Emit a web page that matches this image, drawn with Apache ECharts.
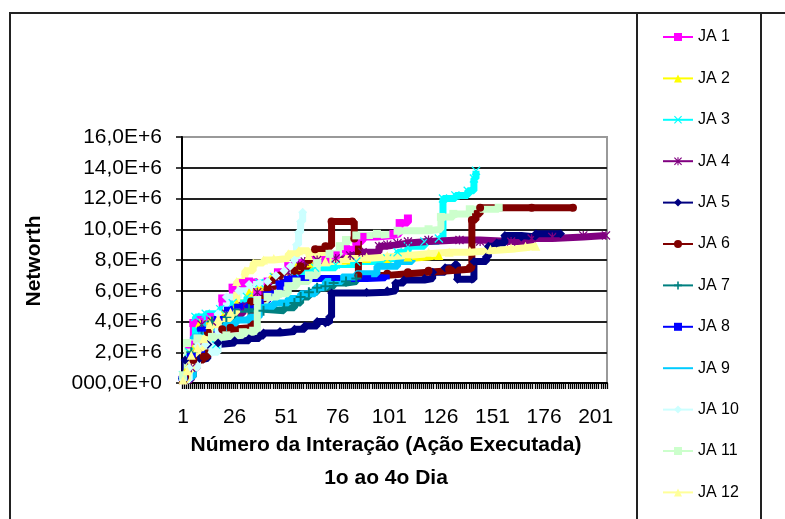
<!DOCTYPE html>
<html>
<head>
<meta charset="utf-8">
<script src="https://cdn.jsdelivr.net/npm/echarts@6/dist/echarts.min.js"></script>
<style>
html,body{margin:0;padding:0;background:#fff;}
#chart{width:785px;height:519px;}
</style>
</head>
<body>
<div id="chart"></div>
<script>
// ---------- data (values in millions) ----------
const xCount = 206;
const categories = [];
for (let i = 1; i <= xCount; i++) categories.push(String(i));

const yTickLabels = ['000,0E+0','2,0E+6','4,0E+6','6,0E+6','8,0E+6','10,0E+6','12,0E+6','14,0E+6','16,0E+6'];
const seriesNames = ['JA 1','JA 2','JA 3','JA 4','JA 5','JA 6','JA 7','JA 8','JA 9','JA 10','JA 11','JA 12'];

const ja1 = [[1,0.3],[4,2.5],[6,3.9],[9,4.1],[14,4.3],[20,5.5],[25,6.2],[30,6.5],[33,6.6],[37,5.8],[42,6.6],[47,7.2],[52,7.6],[58,7.8],[63,8.0],[70,8.0],[75,8.3],[80,8.7],[85,9.2],[88,9.5],[95,9.6],[103,9.7],[106,10.4],[110,10.7]];
const ja2 = [[1,0.3],[3,1.0],[6,2.3],[9,3.9],[14,4.1],[20,4.5],[27,5.2],[33,5.9],[38,6.3],[44,6.9],[50,7.3],[56,7.6],[63,7.8],[70,7.9],[80,8.0],[90,8.1],[100,8.1],[110,8.2],[120,8.3],[125,8.3]];
const ja3 = [[1,0.5],[4,2.0],[7,4.3],[12,4.5],[17,2.5],[19,4.8],[25,5.2],[32,5.6],[38,6.5],[45,6.9],[55,7.2],[65,7.5],[75,7.7],[85,7.9],[100,8.1],[105,8.5],[110,8.9],[118,9.2],[125,9.4],[127,12.0],[133,12.2],[139,12.5],[142,13.3],[143,13.8]];
const ja4 = [[1,0.2],[5,1.0],[8,2.3],[10,3.8],[15,4.0],[22,4.5],[30,5.0],[37,5.9],[43,6.3],[46,6.8],[52,7.2],[57,7.7],[60,7.9],[66,8.0],[75,8.1],[82,8.3],[88,8.5],[96,8.9],[100,9.0],[105,9.1],[110,9.2],[120,9.3],[135,9.3],[145,9.2],[160,9.2],[170,9.4],[180,9.5],[195,9.6],[206,9.6]];
const ja5 = [[1,0.3],[2,1.5],[9,1.6],[13,2.5],[18,2.6],[26,2.75],[33,2.9],[38,3.05],[40,3.25],[48,3.35],[55,3.5],[60,3.7],[66,4.0],[70,3.9],[72,4.3],[73,5.85],[90,5.9],[100,6.0],[104,6.5],[108,6.7],[118,6.8],[122,7.2],[128,7.5],[133,7.7],[134,6.75],[141,6.75],[142,7.9],[148,8.2],[149,8.9],[153,9.1],[157,9.6],[165,9.5],[172,9.7],[184,9.7]];
const ja6 = [[1,0.2],[2,0.4],[6,1.5],[11,1.7],[13,3.3],[20,3.5],[24,3.6],[34,5.3],[40,5.5],[42,6.2],[45,6.7],[48,7.0],[55,7.3],[58,7.6],[62,8.0],[65,8.7],[70,8.9],[73,10.5],[83,10.5],[84,9.4],[86,7.0],[100,7.1],[110,7.2],[120,7.3],[130,7.4],[140,7.5],[141,10.6],[143,11.0],[145,11.4],[170,11.4],[190,11.4]];
const ja7 = [[1,0.3],[5,2.0],[10,3.5],[15,4.0],[22,4.3],[26,4.8],[33,4.8],[40,4.7],[50,4.9],[55,5.2],[58,5.6],[62,5.9],[66,6.2],[70,6.3],[74,6.5],[80,6.6],[85,6.8]];
const ja8 = [[1,0.3],[5,1.8],[10,3.5],[18,4.2],[23,4.8],[28,5.0],[38,5.3],[42,5.8],[48,6.5],[52,6.8],[60,6.8],[75,6.8],[90,6.85],[99,6.9]];
const ja9 = [[1,0.4],[6,3.0],[10,3.8],[15,3.6],[22,3.9],[27,4.1],[33,4.3],[38,5.0],[45,5.2],[52,5.5],[58,5.8],[65,6.2],[70,6.6],[78,6.9],[85,7.1],[95,7.6],[105,7.9],[112,8.0]];
const ja10 = [[1,0.2],[4,1.0],[8,2.4],[12,2.5],[15,2.0],[18,4.5],[22,5.6],[28,6.0],[33,6.4],[38,6.5],[42,6.6],[46,7.0],[50,7.3],[53,7.6],[55,8.0],[56,9.0],[57,9.8],[58,10.5],[59,11.1]];
const ja11 = [[1,0.5],[3,2.6],[8,2.9],[15,3.0],[22,3.1],[30,3.3],[35,3.4],[37,5.4],[42,5.6],[47,5.8],[52,6.3],[56,6.6],[62,7.0],[66,7.8],[72,8.4],[77,8.9],[80,9.3],[85,9.6],[95,9.7],[105,9.9],[120,10.0],[126,10.8],[132,11.0],[140,11.3],[154,11.4]];
const ja12 = [[1,0.2],[3,0.8],[5,1.8],[8,2.3],[11,2.9],[14,3.8],[18,4.2],[24,4.6],[27,6.6],[31,7.3],[35,7.8],[40,8.0],[45,8.1],[52,8.4],[57,8.6],[62,8.3],[70,7.9],[80,8.1],[90,8.2],[100,8.3],[110,8.4],[120,8.5],[130,8.5],[140,8.6],[150,8.7],[160,8.8],[167,8.9],[172,8.9]];

const seriesValues = [ja1, ja2, ja3, ja4, ja5, ja6, ja7, ja8, ja9, ja10, ja11, ja12];

// ---------- styles ----------
const colors = ['#FF00FF','#FFFF00','#00FFFF','#800080','#000080','#800000','#008080','#0000FF','#00CCFF','#CCFFFF','#CCFFCC','#FFFF99'];
const X_PATH = 'path://M0,1L1,0L5,4L9,0L10,1L6,5L10,9L9,10L5,6L1,10L0,9L4,5Z';
const PLUS_PATH = 'path://M4,0H6V4H10V6H6V10H4V6H0V4H4Z';
const STAR_PATH = 'path://M0,1L1,0L5,4L9,0L10,1L6,5L10,9L9,10L5,6L1,10L0,9L4,5Z M4.3,0H5.7V10H4.3Z';
const symbols = ['rect','triangle',X_PATH,STAR_PATH,'diamond','circle',PLUS_PATH,'rect','circle','diamond','rect','triangle'];
const symbolSizes = [8,9,9,9,9,8,10,[9,5],0,9,8,9];

const FONT = '"Liberation Sans", Arial, sans-serif';

const chart = echarts.init(document.getElementById('chart'), null, {renderer: 'canvas'});

const series = seriesValues.map((vals, i) => ({
  name: seriesNames[i],
  type: 'line',
  step: 'end',
  data: vals.map(p => [String(p[0]), p[1] * 1e6]),
  color: colors[i],
  symbol: symbols[i],
  symbolSize: symbolSizes[i],
  showSymbol: symbolSizes[i] !== 0,
  showAllSymbol: true,
  lineStyle: {width: 7, color: colors[i]},
  itemStyle: {color: colors[i]},
  animation: false,
  emphasis: {disabled: true}
}));

const legendData = seriesNames.map((n, i) =>
  symbolSizes[i] === 0 ? {name: n, itemStyle: {opacity: 0}} : {name: n});

chart.setOption({
  animation: false,
  backgroundColor: '#fff',
  grid: {left: 182, right: 178, top: 137, bottom: 136, show: true, borderColor: '#999', borderWidth: 2, backgroundColor: 'transparent'},
  xAxis: {
    type: 'category',
    data: categories,
    boundaryGap: true,
    axisLine: {lineStyle: {color: '#000', width: 2}},
    axisTick: {show: true, interval: 0, length: 6, lineStyle: {color: '#000', width: 1.3}},
    axisLabel: {interval: 24, margin: 24, fontSize: 21, color: '#000', fontFamily: FONT, hideOverlap: false},
    splitLine: {show: false}
  },
  yAxis: {
    type: 'value',
    min: 0, max: 16e6, interval: 2e6,
    axisLine: {show: true, lineStyle: {color: '#000', width: 2}},
    axisTick: {show: true, length: 6, lineStyle: {color: '#000', width: 1.5}},
    axisLabel: {margin: 20, fontSize: 21, color: '#000', fontFamily: FONT,
      formatter: v => yTickLabels[Math.round(v / 2e6)]},
    splitLine: {show: true, showMaxLine: false, lineStyle: {color: '#222', width: 2}}
  },
  legend: {
    orient: 'vertical',
    left: 662, top: 29, padding: 0,
    itemWidth: 30, itemHeight: 10, itemGap: 25.4,
    data: legendData,
    lineStyle: {width: 2},
    textStyle: {fontSize: 16, color: '#000', fontFamily: FONT, lineHeight: 16},
    selectedMode: false
  },
  graphic: [
    {type: 'rect', shape: {x: 10, y: 13, width: 800, height: 530}, style: {fill: null, stroke: '#222', lineWidth: 2}, silent: true},
    {type: 'rect', shape: {x: 637, y: 13, width: 124, height: 530}, style: {fill: null, stroke: '#222', lineWidth: 2}, silent: true},
    {type: 'text', x: 34, y: 261, rotation: Math.PI / 2,
      style: {text: 'Networth', font: 'bold 21px "Liberation Sans", Arial, sans-serif', fill: '#000', textAlign: 'center', textVerticalAlign: 'middle'}, silent: true},
    {type: 'text', x: 386, y: 445,
      style: {text: 'Número da Interação (Ação Executada)', font: 'bold 21px "Liberation Sans", Arial, sans-serif', fill: '#000', textAlign: 'center', textVerticalAlign: 'middle'}, silent: true},
    {type: 'text', x: 386, y: 478,
      style: {text: '1o ao 4o Dia', font: 'bold 21px "Liberation Sans", Arial, sans-serif', fill: '#000', textAlign: 'center', textVerticalAlign: 'middle'}, silent: true}
  ],
  series: series
});
</script>
</body>
</html>
